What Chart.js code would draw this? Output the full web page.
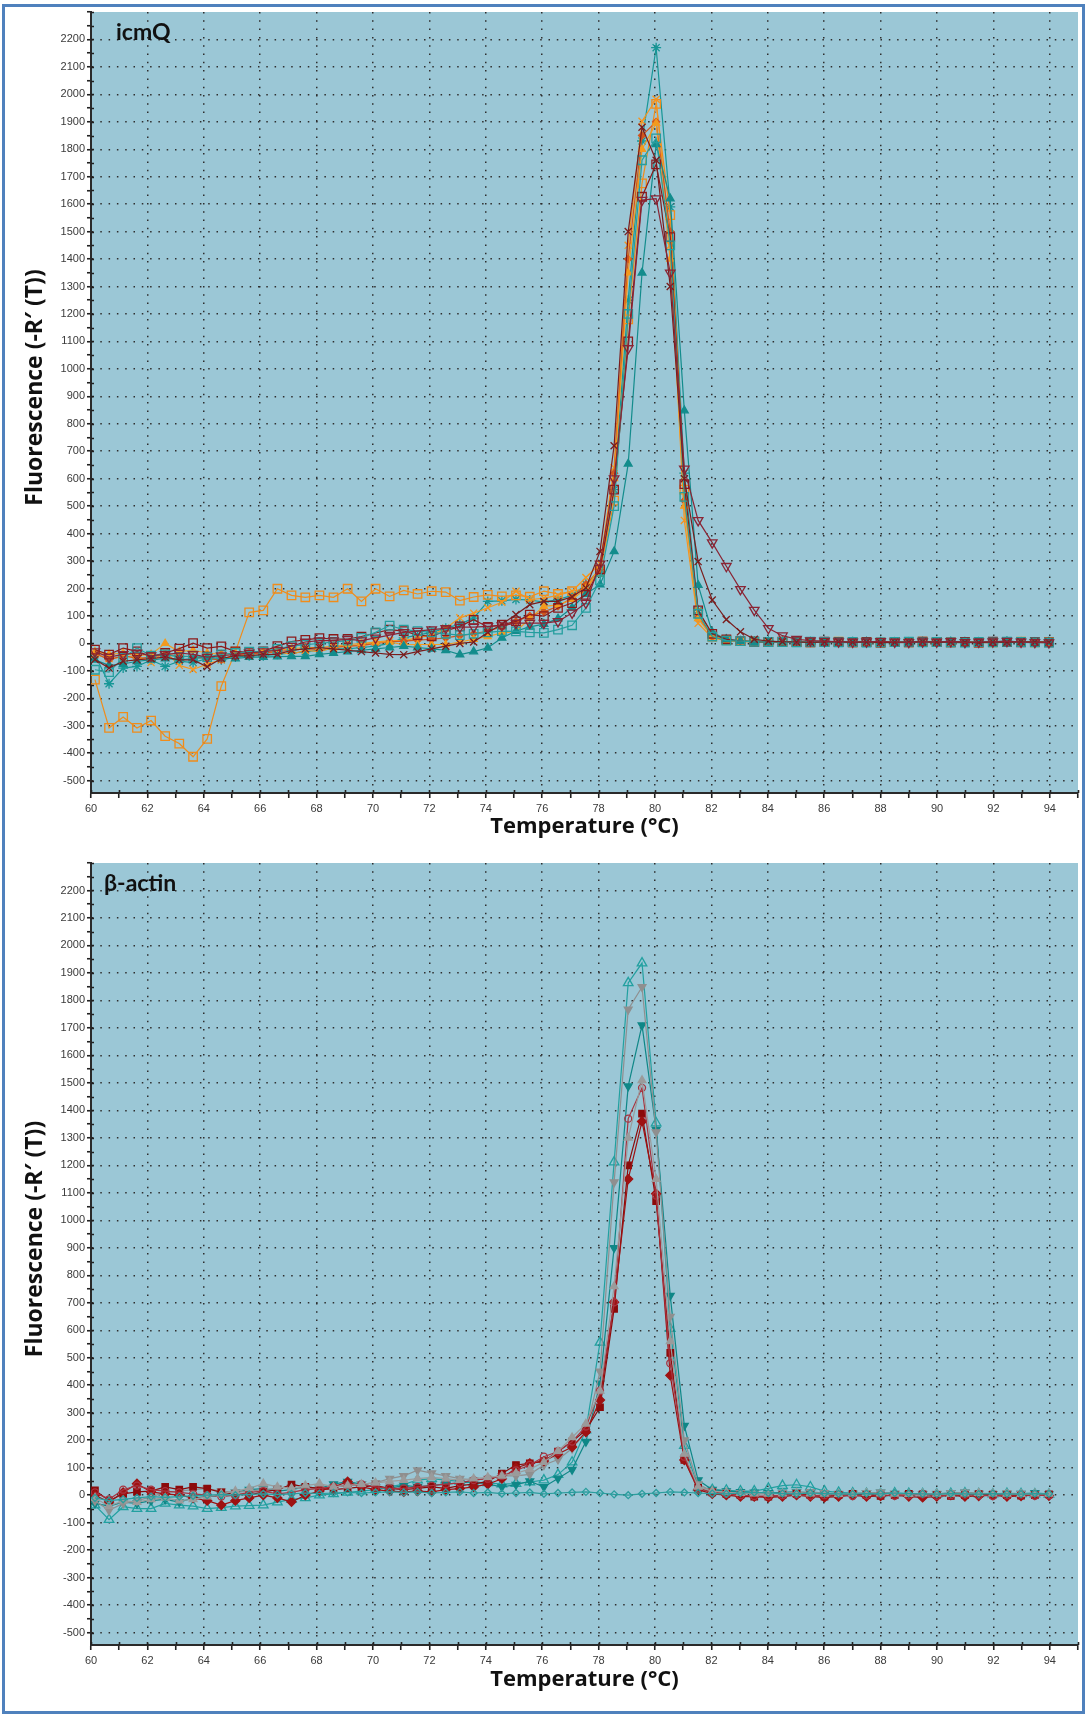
<!DOCTYPE html>
<html>
<head>
<meta charset="utf-8">
<title>Melt curves icmQ / beta-actin</title>
<script src="https://cdn.jsdelivr.net/npm/chart.js@4.4.0/dist/chart.umd.min.js"></script>
<style>
  html, body { margin: 0; padding: 0; background: #fff; }
  #page { position: relative; width: 1086px; height: 1715px; overflow: hidden; }
  #frame { position: absolute; left: 2px; top: 4px; width: 1077px; height: 1704px; border: 3px solid #4f81bd; }
  canvas { position: absolute; left: 0; }
  #chartTop { top: 0; width: 1086px; height: 850px; }
  #chartBottom { top: 850px; width: 1086px; height: 865px; }
</style>
</head>
<body>
<div id="page">
  <div id="frame"></div>
  <canvas id="chartTop" width="1086" height="850"></canvas>
  <canvas id="chartBottom" width="1086" height="865"></canvas>
</div>
<script>
// temperatures of the melt steps (°C), same for every well
const temps = [
  60.14, 60.64, 61.14, 61.63, 62.13, 62.63, 63.13, 63.62, 64.12, 64.62,
  65.12, 65.61, 66.11, 66.61, 67.11, 67.60, 68.10, 68.60, 69.10, 69.59,
  70.09, 70.59, 71.09, 71.58, 72.08, 72.58, 73.08, 73.57, 74.07, 74.57,
  75.07, 75.56, 76.06, 76.56, 77.06, 77.55, 78.05, 78.55, 79.05, 79.54,
  80.04, 80.54, 81.04, 81.53, 82.03, 82.53, 83.03, 83.52, 84.02, 84.52,
  85.02, 85.51, 86.01, 86.51, 87.01, 87.50, 88.00, 88.50, 89.00, 89.49,
  89.99, 90.49, 90.99, 91.48, 91.98, 92.48, 92.98, 93.47, 93.97
];

const xTickLabels = [60, 62, 64, 66, 68, 70, 72, 74, 76, 78, 80, 82, 84, 86, 88, 90, 92, 94];
const yTickLabels = [-500, -400, -300, -200, -100, 0, 100, 200, 300, 400, 500, 600, 700, 800, 900,
  1000, 1100, 1200, 1300, 1400, 1500, 1600, 1700, 1800, 1900, 2000, 2100, 2200];

// ---- icmQ wells ----
const icmqTealStar = [
  -41, -147, -90, -84, -60, -84, -65, -70, -55, -60,
  -50, -45, -45, -40, -35, -30, -25, -20, -20, -15, -10, 0,
  20, 30, 40, 55, 70, 92, 153, 155, 160, 158, 150, 160, 175, 215,
  260, 560, 1250, 1830, 2170, 1590, 620, 120, 30, 15, 10, 8,
  8, 5, 6, 5, 4, 5, 6, 5, 3, 4, 5, 6, 5, 4, 3, 5, 6, 8, 5, 4, 3
];
const icmqTealTri = [
  -60, -80, -75, -65, -60, -55, -60, -55, -50, -55,
  -55, -50, -50, -48, -47, -47, -40, -35, -30, -25, -20, -15,
  -10, -15, -20, -25, -41, -30, -16, 20, 45, 60, 70, 90, 130, 180,
  214, 335, 654, 1350, 1818, 1620, 848, 212, 40, 15, 8, 5,
  5, 6, 4, 5, 5, 3, 4, 6, 5, 4, 3, 5, 4, 6, 5, 4, 3, 5, 4, 3, 5
];
const icmqTealSq = [
  -96, -105, -53, -17, -45, -40, -50, -45, -50, -40,
  -35, -30, -30, -20, -10, -5, 0, 5, 10, 20, 40, 65,
  50, 45, 40, 35, 30, 35, 40, 45, 44, 40, 38, 50, 66, 129,
  230, 500, 1200, 1760, 1840, 1450, 534, 108, 25, 10, 8, 6,
  5, 5, 4, 6, 5, 4, 5, 3, 4, 5, 6, 4, 5, 4, 3, 5, 4, 6, 5, 4, 3
];
const icmqOrangeSq = [
  -132, -308, -268, -308, -281, -338, -365, -413, -348, -156,
  -30, 113, 120, 199, 175, 168, 175, 168, 199, 153, 199, 171,
  193, 180, 190, 187, 156, 169, 177, 171, 175, 170, 190, 180, 190, 200,
  260, 520, 1180, 1676, 1965, 1560, 560, 110, 25, 12, 8, 6,
  5, 6, 5, 4, 5, 6, 4, 5, 3, 5, 4, 6, 5, 4, 5, 3, 4, 5, 6, 4, 5
];
const icmqOrangeX = [
  -40, -55, -50, -45, -70, -30, -80, -95, -75, -60,
  -45, -40, -35, -30, -40, -25, -30, -15, -10, -5, 5, 10,
  10, 20, 30, 55, 93, 110, 130, 150, 190, 159, 165, 175, 190, 240,
  290, 640, 1450, 1902, 1982, 1450, 448, 73, 20, 10, 6, 5,
  5, 4, 6, 5, 4, 5, 3, 5, 4, 6, 5, 3, 4, 5, 6, 5, 4, 3, 5, 4, 5
];
const icmqOrangeTri = [
  -30, -40, -35, -45, -40, 0, -30, -25, -35, -40,
  -35, -35, -30, -25, -20, -15, -15, -10, -5, 0, 5, 5,
  -5, -4, -4, -4, 5, 15, 25, 38, 44, 90, 135, 140, 160, 200,
  280, 600, 1350, 1800, 1895, 1400, 500, 90, 25, 12, 8, 6,
  5, 5, 4, 6, 5, 4, 5, 4, 3, 5, 6, 4, 5, 4, 3, 5, 4, 6, 5, 4, 3
];
const icmqRedOrange = [
  -35, -60, -45, -55, -50, -40, -45, -50, -55, -60,
  -40, -38, -35, -30, -25, -20, -22, -15, -10, -8, 0, 5,
  8, 12, 15, 20, 28, 35, 45, 60, 80, 100, 115, 135, 165, 215,
  270, 620, 1400, 1850, 1900, 1500, 520, 95, 25, 12, 8, 6,
  5, 4, 6, 5, 4, 5, 6, 4, 5, 3, 4, 5, 6, 4, 5, 4, 3, 5, 4, 6, 5
];
const icmqRedX = [
  -59, -90, -65, -60, -55, -50, -60, -60, -85, -55,
  -45, -45, -40, -40, -25, -20, -15, -20, -25, -30, -35, -40,
  -41, -30, -20, -10, 0, 5, 40, 70, 105, 141, 153, 153, 170, 202,
  335, 720, 1500, 1880, 1760, 1300, 600, 298, 158, 87, 42, 15,
  8, 6, 5, 4, 5, 6, 4, 5, 3, 4, 5, 6, 4, 5, 4, 3, 5, 4, 6, 5, 4
];
const icmqRedTri = [
  -30, -50, -40, -35, -45, -40, -35, -40, -50, -45,
  -40, -35, -30, -25, -10, 5, 10, 10, 15, 10, 20, 30,
  40, 45, 50, 55, 59, 59, 62, 65, 74, 74, 74, 80, 111, 147,
  290, 600, 1075, 1615, 1620, 1350, 636, 448, 367, 281, 197, 121,
  55, 28, 15, 10, 8, 6, 5, 6, 7, 5, 4, 6, 5, 7, 4, 5, 6, 8, 5, 4, 3
];
const icmqRedSq = [
  -23, -41, -17, -29, -47, -35, -19, 1, -17, -11,
  -29, -33, -29, -10, 7, 13, 19, 16, 16, 25, 38, 50,
  45, 30, 26, 45, 62, 86, 60, 68, 80, 105, 99, 129, 147, 177,
  270, 560, 1100, 1627, 1745, 1480, 580, 120, 35, 15, 8, 6,
  5, 6, 5, 4, 6, 5, 4, 5, 3, 5, 4, 6, 5, 4, 5, 3, 6, 5, 4, 5, 4
];

// ---- beta-actin wells ----
const actinTealTriOpen = [
  -36, -89, -42, -49, -49, -30, -36, -40, -49, -45,
  -40, -38, -36, -25, -15, -10, 0, 5, 10, 15, 20, 30,
  40, 55, 60, 55, 50, 45, 45, 40, 42, 48, 55, 75, 120, 237,
  556, 1212, 1864, 1936, 1354, 606, 180, 27, 20, 18, 15, 15,
  25, 35, 38, 30, 15, 10, 8, 6, 5, 8, 6, 5, 4, 6, 8, 5, 4, 6, 5, 4, 3
];
const actinGrayDown = [
  -20, -55, -30, -20, -6, 10, 15, 20, 24, 15,
  10, 15, 20, 25, 30, 20, 25, 30, 35, 40, 45, 60,
  70, 91, 80, 70, 60, 55, 60, 70, 70, 76, 110, 130, 170, 230,
  450, 1139, 1767, 1849, 1321, 650, 200, 40, 15, 10, 8, 6,
  5, 8, 10, 12, 8, 6, 5, 8, 10, 6, 5, 4, 6, 8, 10, 6, 5, 8, 6, 5, 4
];
const actinTealDown = [
  -30, -40, -25, -30, -20, -15, -25, -10, -5, 0,
  10, 20, 24, 15, 20, 30, 25, 40, 49, 40, 30, 25,
  36, 30, 36, 40, 45, 50, 40, 30, 38, 51, 30, 61, 93, 195,
  407, 900, 1488, 1710, 1330, 726, 253, 55, 20, 15, 12, 10,
  8, 10, 12, 8, 6, 5, 6, 8, 10, 6, 5, 4, 5, 8, 10, 6, 5, 4, 6, 8, 5
];
const actinGrayUp = [
  -10, -40, -20, -25, -15, -10, -20, -15, -5, 5,
  15, 25, 42, 30, 25, 35, 42, 30, 35, 40, 45, 50,
  55, 60, 65, 60, 55, 60, 65, 70, 80, 95, 120, 160, 210, 260,
  380, 760, 1300, 1509, 1150, 560, 150, 30, 15, 10, 8, 6,
  5, 6, 8, 6, 5, 4, 6, 8, 6, 5, 4, 6, 5, 4, 6, 8, 6, 5, 4, 6, 5
];
const actinRedSq = [
  18, -20, 5, 12, 15, 30, 20, 30, 24, 10,
  5, 0, 12, 20, 39, 30, 25, 20, 25, 30, 35, 25,
  20, 25, 30, 25, 35, 40, 50, 79, 110, 116, 124, 159, 195, 237,
  320, 678, 1200, 1388, 1070, 518, 128, 27, 10, 5, 0, -5,
  -5, 0, 5, 0, -5, 0, 5, 0, -3, 0, 5, 3, 0, -3, 0, 4, 2, 0, -2, 0, 3
];
const actinRedDiamond = [
  0, -25, 10, 42, 12, 5, 0, -10, -20, -36,
  -20, -10, 0, -10, -24, 0, 15, 30, 49, 30, 20, 15,
  12, 15, 12, 20, 24, 30, 40, 60, 99, 116, 124, 150, 175, 230,
  346, 702, 1150, 1360, 1097, 436, 128, 20, 5, 0, -5, -5,
  -8, -5, 0, -5, -8, -5, 0, -5, -3, 0, -5, -8, -5, 0, -5, -3, 0, -5, -3, 0, -2
];
const actinRedCircle = [
  10, -15, 20, 35, 20, 15, 10, 5, 0, -5,
  0, 10, 15, 5, 10, 20, 25, 30, 35, 40, 30, 25,
  25, 30, 35, 40, 45, 55, 60, 70, 90, 110, 140, 159, 195, 250,
  380, 702, 1370, 1482, 1090, 480, 140, 25, 10, 5, 0, -3,
  -3, 0, 3, -2, 0, 2, -3, 0, 2, -2, 0, 3, -2, 0, 2, 0, -3, 0, 2, -2, 0
];
const actinTealFlat = [
  -10, -20, -15, -10, -5, -8, -5, -2, 0, 2,
  0, 3, 5, 2, 5, 8, 6, 8, 10, 8, 10, 12,
  10, 12, 8, 10, 12, 8, 10, 6, 8, 10, 5, 8, 10, 12,
  8, 3, 0, 5, 8, 12, 10, 8, 6, 5, 8, 10,
  8, 6, 5, 8, 6, 5, 4, 6, 5, 8, 6, 5, 4, 6, 5, 4, 6, 5, 4, 6, 5
];

const NONE = 'rgba(0,0,0,0)';

function series(label, data, color, style, radius, open, rotation) {
  return {
    label: label,
    data: data,
    borderColor: color,
    borderWidth: 1.2,
    pointStyle: style,
    pointRadius: radius,
    pointBorderColor: color,
    pointBackgroundColor: open ? NONE : color,
    pointBorderWidth: 1.3,
    pointRotation: rotation || 0,
    fill: false,
    tension: 0
  };
}

const icmqSets = [
  series('icmQ 1', icmqRedTri, '#8a2434', 'triangle', 5.5, true, 180),
  series('icmQ 2', icmqRedX, '#7a1c1c', 'crossRot', 5, false),
  series('icmQ 3', icmqTealSq, '#259e9e', 'rect', 6, true),
  series('icmQ 4', icmqRedSq, '#8c1a1a', 'rect', 6, true),
  series('icmQ 5', icmqTealTri, '#138c8c', 'triangle', 4.5, false),
  series('icmQ 6', icmqOrangeTri, '#f39a1e', 'triangle', 4, false),
  series('icmQ 7', icmqRedOrange, '#d0561f', 'rectRot', 3.5, false),
  series('icmQ 8', icmqOrangeX, '#f7941d', 'crossRot', 5, false),
  series('icmQ 9', icmqOrangeSq, '#f08c1a', 'rect', 6, true),
  series('icmQ 10', icmqTealStar, '#169696', 'star', 5, false)
];

const actinSets = [
  series('actin 1', actinTealFlat, '#2a9d9d', 'rectRot', 3.5, true),
  series('actin 2', actinGrayUp, '#9b9b9b', 'triangle', 4.5, false),
  series('actin 3', actinRedCircle, '#a8333f', 'circle', 3.5, true),
  series('actin 4', actinRedDiamond, '#9e1212', 'rectRot', 4.5, false),
  series('actin 5', actinRedSq, '#8b0b0b', 'rect', 4.5, false),
  series('actin 6', actinGrayDown, '#8f8f8f', 'triangle', 4.5, false, 180),
  series('actin 7', actinTealDown, '#0f8787', 'triangle', 4.5, false, 180),
  series('actin 8', actinTealTriOpen, '#22a0a0', 'triangle', 5.5, true)
];

const panelPlugin = {
  id: 'panel',
  beforeDraw(chart) {
    const a = chart.chartArea;
    const ctx = chart.ctx;
    ctx.save();
    ctx.fillStyle = '#9bc7d6';
    ctx.fillRect(a.left, a.top, a.right - a.left, a.bottom - a.top);
    ctx.restore();
  },
  beforeDatasetsDraw(chart) {
    // tick marks also poke a little into the plot, like the instrument software
    const a = chart.chartArea;
    const ctx = chart.ctx;
    ctx.save();
    ctx.strokeStyle = '#222';
    ctx.lineWidth = 1.6;
    ctx.beginPath();
    chart.scales.y.ticks.forEach((t) => {
      const py = Math.round(chart.scales.y.getPixelForValue(t.value)) + 0.5;
      ctx.moveTo(a.left, py);
      ctx.lineTo(a.left + 3, py);
    });
    chart.scales.x.ticks.forEach((t) => {
      const px = Math.round(chart.scales.x.getPixelForValue(t.value)) + 0.5;
      ctx.moveTo(px, a.bottom);
      ctx.lineTo(px, a.bottom - 3);
    });
    ctx.stroke();
    ctx.restore();
  },
  afterDraw(chart, args, opts) {
    const a = chart.chartArea;
    const ctx = chart.ctx;
    ctx.save();
    ctx.fillStyle = '#111';
    ctx.font = 'bold 23px Lato, "Open Sans", sans-serif';
    ctx.textBaseline = 'middle';
    ctx.textAlign = 'left';
    ctx.fillText(opts.label, a.left + opts.labelDx, a.top + 21);
    ctx.translate(35, (a.top + a.bottom) / 2 - 15);
    ctx.rotate(-Math.PI / 2);
    ctx.textAlign = 'center';
    ctx.font = 'bold 23px "Open Sans", sans-serif';
    ctx.fillText('Fluorescence (-R\u2032 (T))', 0, 0);
    ctx.restore();
  }
};

function makeChart(id, sets, label, labelDx, topPad, xHeight, titlePad) {
  return new Chart(document.getElementById(id), {
    type: 'line',
    data: { labels: temps, datasets: sets },
    options: {
      responsive: false,
      animation: false,
      devicePixelRatio: 1,
      events: [],
      layout: { padding: { left: 0, right: 8, top: topPad, bottom: 0 } },
      plugins: {
        legend: { display: false },
        tooltip: { enabled: false },
        panel: { label: label, labelDx: labelDx }
      },
      scales: {
        x: {
          type: 'linear',
          min: 60,
          max: 95,
          bounds: 'data',
          afterBuildTicks: (axis) => {
            const t = [];
            for (let v = 60; v <= 95; v++) t.push({ value: v });
            axis.ticks = t;
          },
          afterFit: (axis) => { axis.height = xHeight; },
          ticks: {
            autoSkip: false,
            maxRotation: 0,
            padding: 4,
            color: '#3a3a3a',
            font: { family: 'Liberation Sans', size: 11 },
            callback: (v) => xTickLabels.includes(v) ? String(v) : ''
          },
          grid: {
            color: (c) => (c.tick && xTickLabels.includes(c.tick.value) && c.tick.value !== 60) ? '#2e2e2e' : NONE,
            lineWidth: 1.5,
            drawTicks: true,
            tickLength: 5,
            tickWidth: 1.6,
            tickColor: '#222'
          },
          border: { display: true, color: '#2a2a2a', width: 2, dash: [1.5, 6.8] },
          title: {
            display: true,
            text: 'Temperature (\u00b0C)',
            color: '#111',
            font: { family: 'Open Sans', size: 22, weight: 'bold' },
            padding: { top: 0, bottom: titlePad }
          }
        },
        y: {
          type: 'linear',
          min: -545,
          max: 2300,
          bounds: 'data',
          afterBuildTicks: (axis) => {
            const t = [];
            for (let v = -500; v <= 2300; v += 50) t.push({ value: v });
            axis.ticks = t;
          },
          afterFit: (axis) => { axis.width = 91; },
          ticks: {
            autoSkip: false,
            padding: 2,
            color: '#3a3a3a',
            font: { family: 'Liberation Sans', size: 11 },
            callback: (v) => yTickLabels.includes(v) ? String(v) : ''
          },
          grid: {
            color: (c) => (c.tick && yTickLabels.includes(c.tick.value)) ? '#2e2e2e' : NONE,
            lineWidth: 1.5,
            drawTicks: true,
            tickLength: 4,
            tickWidth: 1.6,
            tickColor: '#222'
          },
          border: { display: true, color: '#2a2a2a', width: 2, dash: [1.5, 6.8] }
        }
      }
    },
    plugins: [panelPlugin]
  });
}

makeChart('chartTop', icmqSets, 'icmQ', 25, 12, 57, 10);
makeChart('chartBottom', actinSets, '\u03b2-actin', 13, 13, 70, 22);
</script>
</body>
</html>
